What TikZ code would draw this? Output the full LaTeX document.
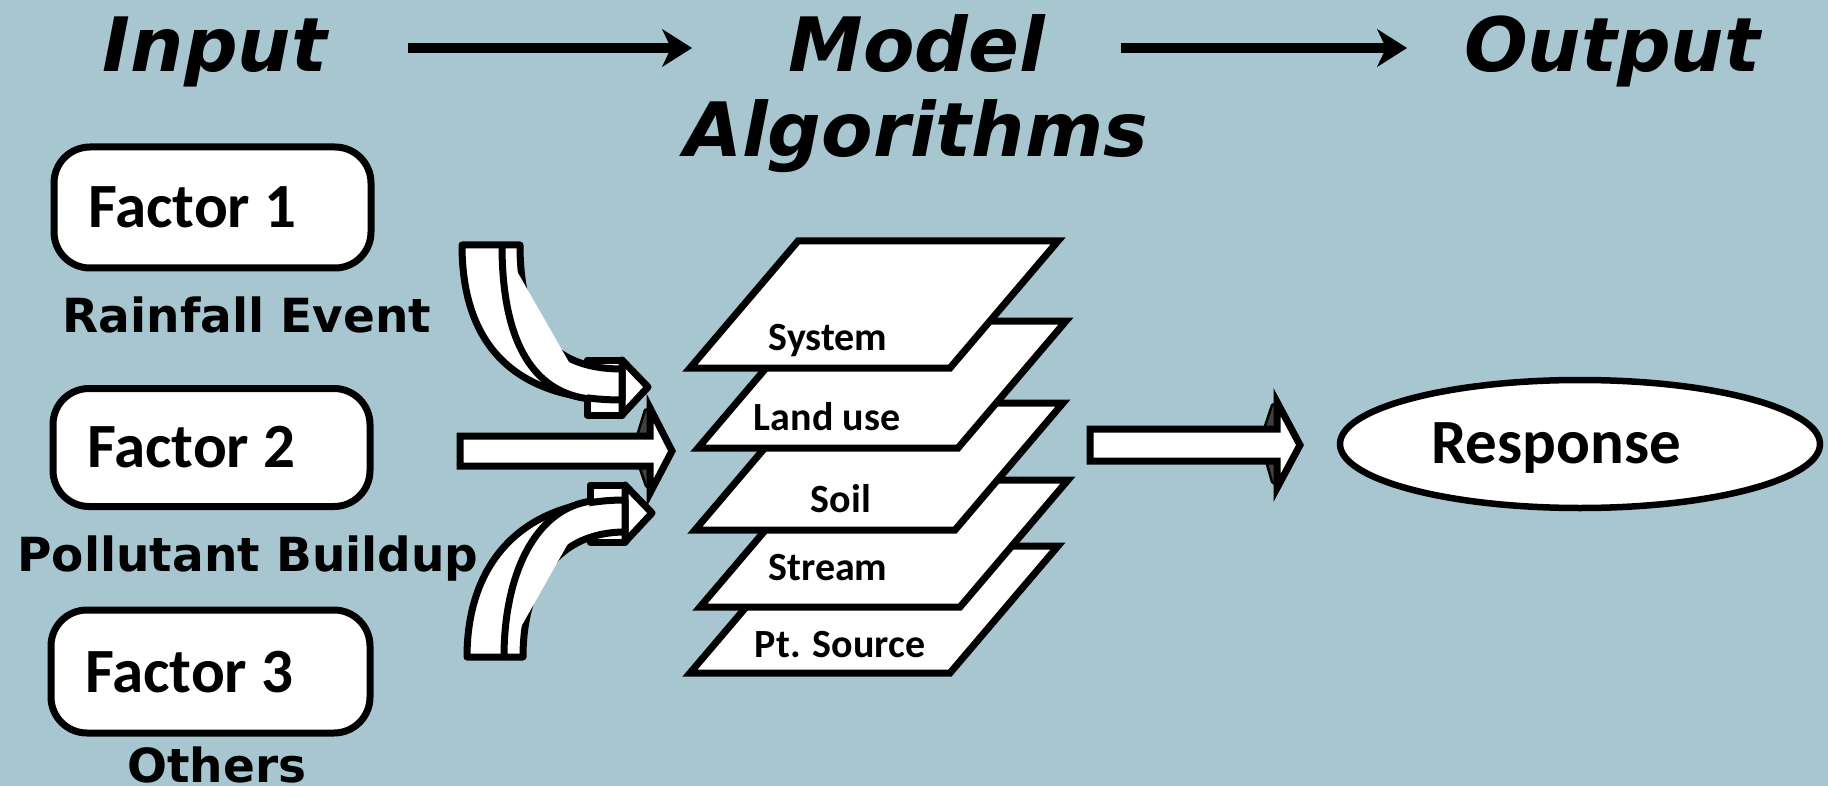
\documentclass[tikz,border=0pt]{standalone}
\usepackage{fontspec}
\newfontfamily\titlefont{DejaVu Sans}
\newfontfamily\labfont{DejaVu Sans}
\newfontfamily\boxfont{Carlito}
\usetikzlibrary{arrows.meta,shapes.geometric}
\definecolor{bgc}{RGB}{168,198,208}
\definecolor{shadec}{RGB}{64,64,64}
\newcommand\plateshape[2]{\draw[plate] (#1,#2) -- ++(260,0) -- ++(108,-127) -- ++(-260,0) -- cycle;}
\begin{document}
\begin{tikzpicture}[x=1pt,y=-1pt,
  title/.style={font=\titlefont\bfseries\itshape\fontsize{75}{80}\selectfont, inner sep=0pt, anchor=base},
  lab/.style={font=\labfont\bfseries\fontsize{47}{50}\selectfont, inner sep=0pt, anchor=base},
  ftext/.style={font=\boxfont\bfseries\fontsize{63}{66}\selectfont, inner sep=0pt, anchor=base west},
  ptext/.style={font=\boxfont\bfseries\fontsize{40}{44}\selectfont, inner sep=0pt, anchor=base},
  fbox/.style={draw=black, fill=white, line width=7pt, rounded corners=36pt, rectangle, inner sep=0pt},
  plate/.style={draw=black, fill=white, line width=7pt, line join=miter},
  blk/.style={draw=black, fill=white, line width=7pt, line join=round},
  shd/.style={draw=black, fill=shadec, line width=2.5pt, line join=round},
  toparrow/.style={line width=10pt, -{Stealth[length=30pt,width=38pt,inset=9pt,line width=1pt]}},
]
\useasboundingbox (0,0) rectangle (1828,786);
\fill[bgc] (0,0) rectangle (1828,786);

% titles
\node[title] (input) at (215,72) {Input};
\node[title] (model) at (917,72) {Model};
\node[title] (algo) at (916,157) {Algorithms};
\node[title] (output) at (1612,72) {Output};
\coordinate (a1s) at (408,48);
\coordinate (a1e) at (692,48);
\coordinate (a2s) at (1121,48);
\coordinate (a2e) at (1407,48);
\draw[toparrow] (a1s) -- (a1e);
\draw[toparrow] (a2s) -- (a2e);

% factor boxes
\node[fbox, minimum width=317pt, minimum height=121pt] (f1box) at (212.5,207.5) {};
\node[ftext] (f1) at (88,228) {Factor 1};
\node[lab] (rain) at (247,332) {Rainfall Event};
\node[fbox, minimum width=317pt, minimum height=118pt] (f2box) at (211.5,447.5) {};
\node[ftext] (f2) at (87,467) {Factor 2};
\node[lab] (poll) at (248,571) {Pollutant Buildup};
\node[fbox, minimum width=319pt, minimum height=123pt] (f3box) at (210.5,671.5) {};
\node[ftext] (f3) at (85,692) {Factor 3};
\node[lab] (others) at (217,782) {Others};

% top curved arrow
\draw[blk] (587,360) rectangle (622,415);
\draw[blk] (622,360) -- (648,387) -- (622,415) -- cycle;
\draw[blk] (462,245) .. controls (462,350) and (520,400) .. (622,400) -- (622,369) .. controls (557,369) and (520,335) .. (520,245) -- cycle;
\draw[blk] (502,245) .. controls (502,345) and (535,393) .. (590,399);

% middle straight arrow
\draw[shd] (637,436) -- (645,410) -- (652,408) -- (652,436) -- cycle;
\draw[shd] (639,466) -- (646,486) -- (652,490) -- (652,466) -- cycle;
\draw[blk, line join=miter] (460,436) -- (650,436) -- (650,408) -- (672,451) -- (650,493) -- (650,466) -- (460,466) -- cycle;

% bottom curved arrow
\draw[blk] (590,485) rectangle (625,542);
\draw[blk] (625,485) -- (652,513) -- (625,542) -- cycle;
\draw[blk] (467,657) .. controls (467,560) and (525,500) .. (625,500) -- (625,532) .. controls (560,532) and (523,580) .. (523,657) -- cycle;
\draw[blk] (504,657) .. controls (504,575) and (535,508) .. (592,501);

% plates
\plateshape{690}{673}
\node[ptext] (pt) at (840,657) {Pt. Source};
\plateshape{700}{607}
\node[ptext] (stream) at (828,580) {Stream};
\plateshape{695}{530}
\node[ptext] (soil) at (841,512) {Soil};
\plateshape{698}{448}
\node[ptext] (land) at (827,430) {Land use};
\plateshape{690}{368}
\node[ptext] (system) at (828,350) {System};

% response arrow
\draw[shd] (1264,429) -- (1272,405) -- (1279,402) -- (1279,429) -- cycle;
\draw[shd] (1266,461) -- (1272,482) -- (1279,487) -- (1279,461) -- cycle;
\draw[blk, line join=miter] (1090,429) -- (1277,429) -- (1277,402) -- (1300,445) -- (1277,488) -- (1277,461) -- (1090,461) -- cycle;

% response
\node[ellipse, draw=black, fill=white, line width=6.5pt, minimum width=480pt, minimum height=128pt, inner sep=0pt] (resp) at (1580,444) {};
\node[font=\boxfont\bfseries\fontsize{63}{66}\selectfont, inner sep=0pt, anchor=base] (resptext) at (1556,463) {Response};
\end{tikzpicture}
\end{document}
